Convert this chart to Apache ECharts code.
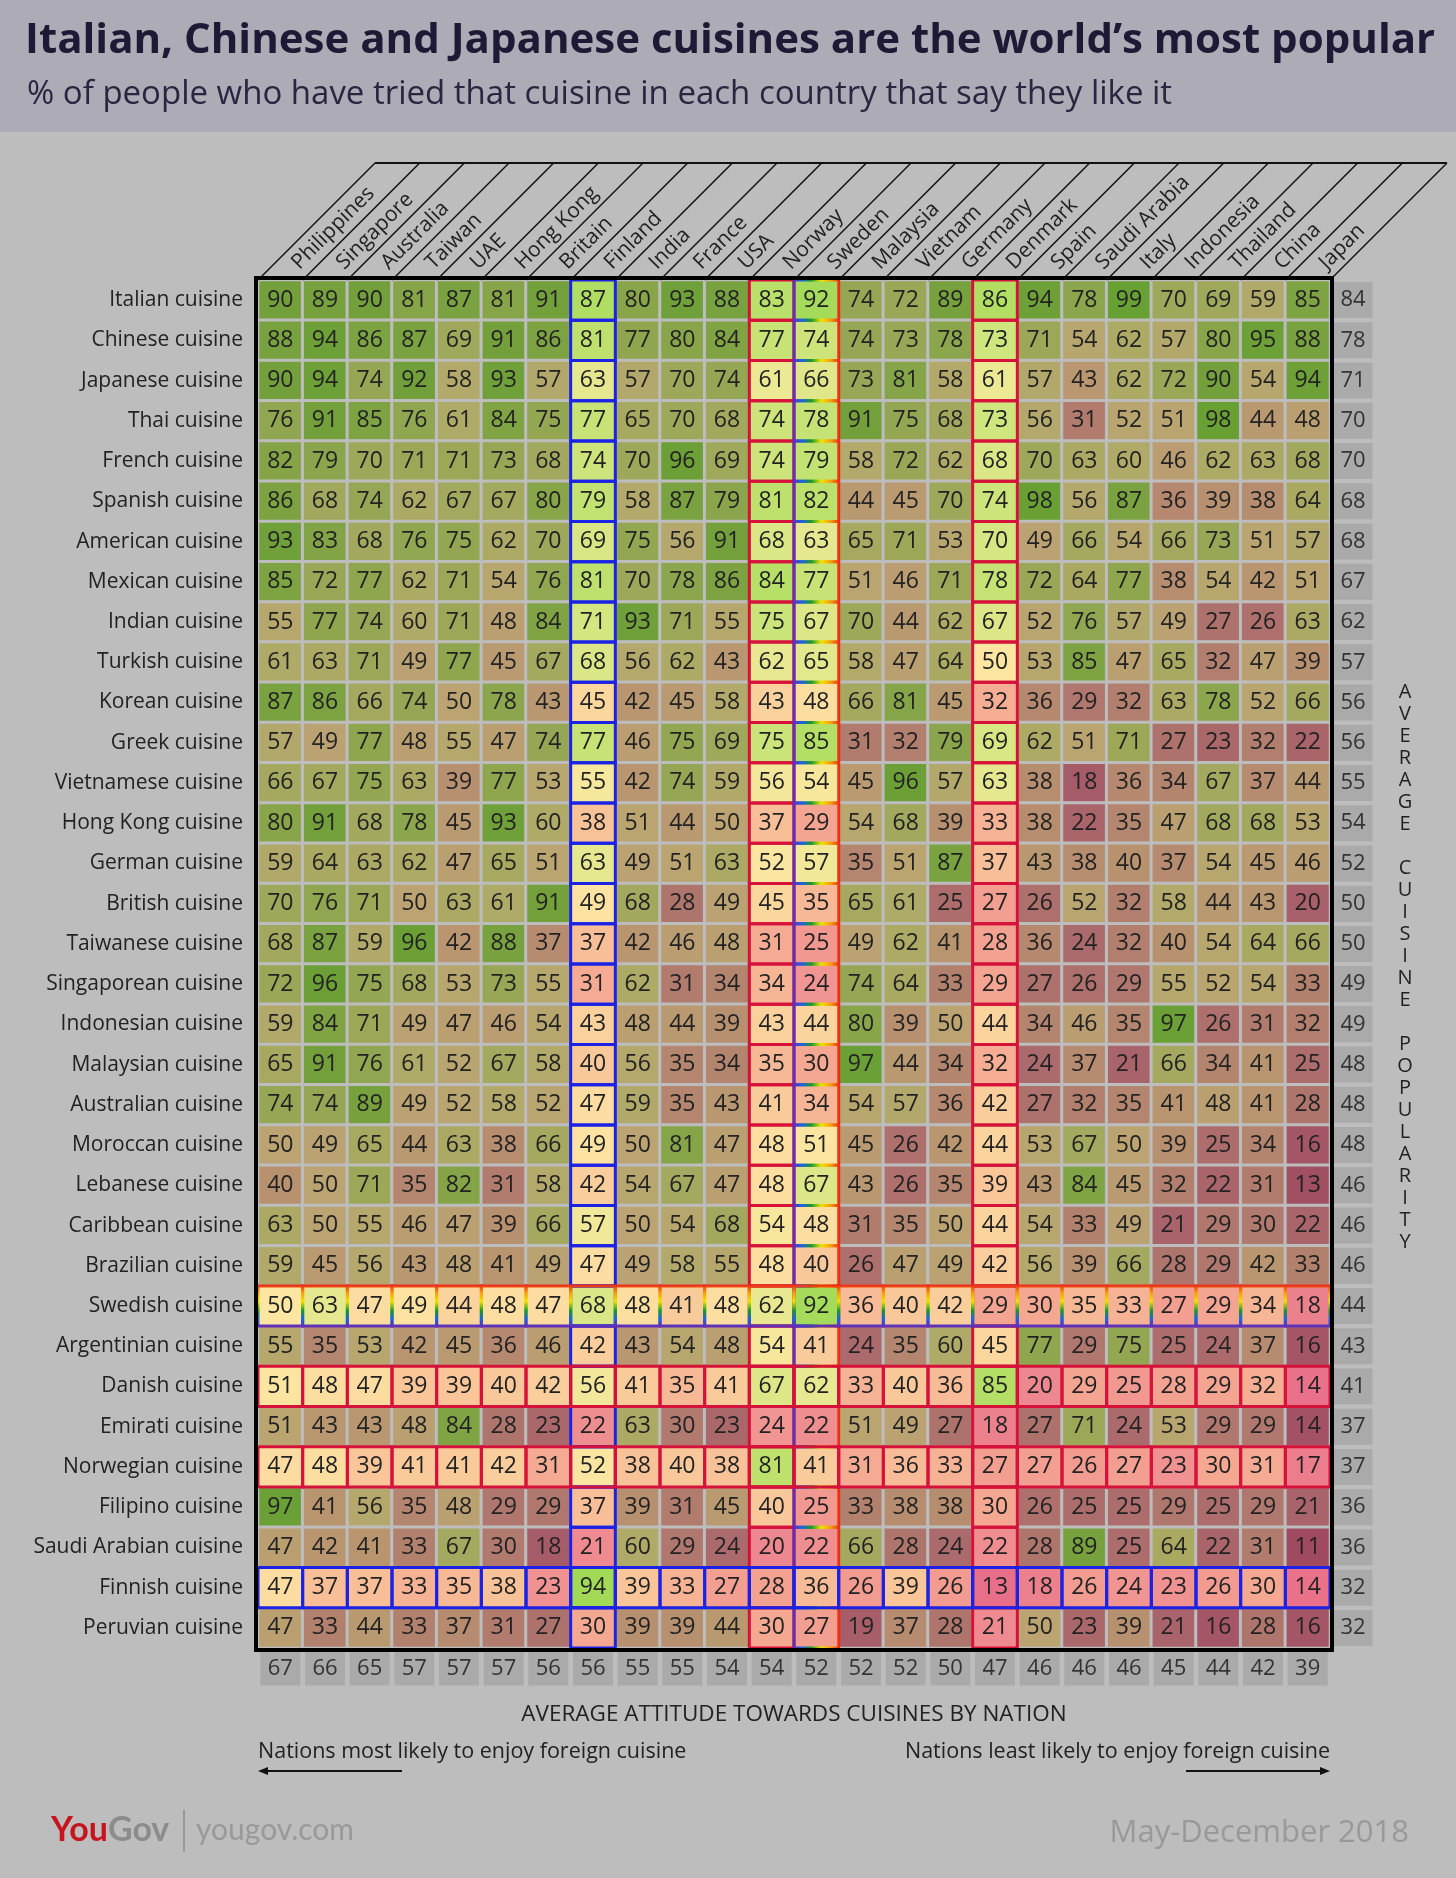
<!DOCTYPE html>
<html><head><meta charset="utf-8">
<script src="https://cdn.jsdelivr.net/npm/echarts@6/dist/echarts.min.js"></script>
<style>html,body{margin:0;padding:0;background:#bdbdbd}#c{width:1456px;height:1878px}</style>
</head><body><div id="c"></div>
<script>
const countries = ['Philippines','Singapore','Australia','Taiwan','UAE','Hong Kong','Britain','Finland','India','France','USA','Norway','Sweden','Malaysia','Vietnam','Germany','Denmark','Spain','Saudi Arabia','Italy','Indonesia','Thailand','China','Japan'];
const cuisines = ['Italian cuisine','Chinese cuisine','Japanese cuisine','Thai cuisine','French cuisine','Spanish cuisine','American cuisine','Mexican cuisine','Indian cuisine','Turkish cuisine','Korean cuisine','Greek cuisine','Vietnamese cuisine','Hong Kong cuisine','German cuisine','British cuisine','Taiwanese cuisine','Singaporean cuisine','Indonesian cuisine','Malaysian cuisine','Australian cuisine','Moroccan cuisine','Lebanese cuisine','Caribbean cuisine','Brazilian cuisine','Swedish cuisine','Argentinian cuisine','Danish cuisine','Emirati cuisine','Norwegian cuisine','Filipino cuisine','Saudi Arabian cuisine','Finnish cuisine','Peruvian cuisine'];

const italian     = [90,89,90,81,87,81,91,87,80,93,88,83,92,74,72,89,86,94,78,99,70,69,59,85];
const chinese     = [88,94,86,87,69,91,86,81,77,80,84,77,74,74,73,78,73,71,54,62,57,80,95,88];
const japanese    = [90,94,74,92,58,93,57,63,57,70,74,61,66,73,81,58,61,57,43,62,72,90,54,94];
const thai        = [76,91,85,76,61,84,75,77,65,70,68,74,78,91,75,68,73,56,31,52,51,98,44,48];
const french      = [82,79,70,71,71,73,68,74,70,96,69,74,79,58,72,62,68,70,63,60,46,62,63,68];
const spanish     = [86,68,74,62,67,67,80,79,58,87,79,81,82,44,45,70,74,98,56,87,36,39,38,64];
const american    = [93,83,68,76,75,62,70,69,75,56,91,68,63,65,71,53,70,49,66,54,66,73,51,57];
const mexican     = [85,72,77,62,71,54,76,81,70,78,86,84,77,51,46,71,78,72,64,77,38,54,42,51];
const indian      = [55,77,74,60,71,48,84,71,93,71,55,75,67,70,44,62,67,52,76,57,49,27,26,63];
const turkish     = [61,63,71,49,77,45,67,68,56,62,43,62,65,58,47,64,50,53,85,47,65,32,47,39];
const korean      = [87,86,66,74,50,78,43,45,42,45,58,43,48,66,81,45,32,36,29,32,63,78,52,66];
const greek       = [57,49,77,48,55,47,74,77,46,75,69,75,85,31,32,79,69,62,51,71,27,23,32,22];
const vietnamese  = [66,67,75,63,39,77,53,55,42,74,59,56,54,45,96,57,63,38,18,36,34,67,37,44];
const hongkong    = [80,91,68,78,45,93,60,38,51,44,50,37,29,54,68,39,33,38,22,35,47,68,68,53];
const german      = [59,64,63,62,47,65,51,63,49,51,63,52,57,35,51,87,37,43,38,40,37,54,45,46];
const british     = [70,76,71,50,63,61,91,49,68,28,49,45,35,65,61,25,27,26,52,32,58,44,43,20];
const taiwanese   = [68,87,59,96,42,88,37,37,42,46,48,31,25,49,62,41,28,36,24,32,40,54,64,66];
const singaporean = [72,96,75,68,53,73,55,31,62,31,34,34,24,74,64,33,29,27,26,29,55,52,54,33];
const indonesian  = [59,84,71,49,47,46,54,43,48,44,39,43,44,80,39,50,44,34,46,35,97,26,31,32];
const malaysian   = [65,91,76,61,52,67,58,40,56,35,34,35,30,97,44,34,32,24,37,21,66,34,41,25];
const australian  = [74,74,89,49,52,58,52,47,59,35,43,41,34,54,57,36,42,27,32,35,41,48,41,28];
const moroccan    = [50,49,65,44,63,38,66,49,50,81,47,48,51,45,26,42,44,53,67,50,39,25,34,16];
const lebanese    = [40,50,71,35,82,31,58,42,54,67,47,48,67,43,26,35,39,43,84,45,32,22,31,13];
const caribbean   = [63,50,55,46,47,39,66,57,50,54,68,54,48,31,35,50,44,54,33,49,21,29,30,22];
const brazilian   = [59,45,56,43,48,41,49,47,49,58,55,48,40,26,47,49,42,56,39,66,28,29,42,33];
const swedish     = [50,63,47,49,44,48,47,68,48,41,48,62,92,36,40,42,29,30,35,33,27,29,34,18];
const argentinian = [55,35,53,42,45,36,46,42,43,54,48,54,41,24,35,60,45,77,29,75,25,24,37,16];
const danish      = [51,48,47,39,39,40,42,56,41,35,41,67,62,33,40,36,85,20,29,25,28,29,32,14];
const emirati     = [51,43,43,48,84,28,23,22,63,30,23,24,22,51,49,27,18,27,71,24,53,29,29,14];
const norwegian   = [47,48,39,41,41,42,31,52,38,40,38,81,41,31,36,33,27,27,26,27,23,30,31,17];
const filipino    = [97,41,56,35,48,29,29,37,39,31,45,40,25,33,38,38,30,26,25,25,29,25,29,21];
const saudi       = [47,42,41,33,67,30,18,21,60,29,24,20,22,66,28,24,22,28,89,25,64,22,31,11];
const finnish     = [47,37,37,33,35,38,23,94,39,33,27,28,36,26,39,26,13,18,26,24,23,26,30,14];
const peruvian    = [47,33,44,33,37,31,27,30,39,39,44,30,27,19,37,28,21,50,23,39,21,16,28,16];

const cuisineAverages = [84,78,71,70,70,68,68,67,62,57,56,56,55,54,52,50,50,49,49,48,48,48,46,46,46,44,43,41,37,37,36,36,32,32];
const nationAverages  = [67,66,65,57,57,57,56,56,55,55,54,54,52,52,52,50,47,46,46,46,45,44,42,39];

const highlightCols = {'Finland':'blue','Norway':'red','Sweden':'rainbow','Denmark':'red'};
const highlightRows = {'Swedish cuisine':'rainbow','Danish cuisine':'red','Norwegian cuisine':'red','Finnish cuisine':'blue'};

const rows = [italian,chinese,japanese,thai,french,spanish,american,mexican,indian,turkish,korean,greek,vietnamese,hongkong,german,british,taiwanese,singaporean,indonesian,malaysian,australian,moroccan,lebanese,caribbean,brazilian,swedish,argentinian,danish,emirati,norwegian,filipino,saudi,finnish,peruvian];

const FONT = "'Open Sans'";
const normalData = [], brightData = [], borderData = [];
rows.forEach((r, ri) => r.forEach((v, ci) => {
  const hl = highlightRows[cuisines[ri]] || highlightCols[countries[ci]];
  (hl ? brightData : normalData).push([ci, ri, v]);
}));
const typeCode = {blue:0, red:1};
countries.forEach((c, ci) => {
  const t = highlightCols[c]; if (!t) return;
  cuisines.forEach((_, ri) => borderData.push([ci, ri, 0, t === 'rainbow' ? 2 : typeCode[t]]));
});
cuisines.forEach((c, ri) => {
  const t = highlightRows[c]; if (!t) return;
  countries.forEach((_, ci) => borderData.push([ci, ri, 0, t === 'rainbow' ? 3 : typeCode[t]]));
});

const chart = echarts.init(document.getElementById('c'), null, {renderer:'canvas'});
const cellLabel = {show:true, formatter:p=>p.value[2], fontSize:23, color:'#222', fontFamily:FONT};

const rainbowStops = ['#7a1fa2','#1e5fe6','#1a9a2a','#f2e200','#f59a0a','#e8141c'];
function grad(vertical){
  const cols = vertical ? rainbowStops.slice().reverse() : rainbowStops;
  return new echarts.graphic.LinearGradient(0,0,vertical?0:1,vertical?1:0, cols.map((c,i)=>({offset:i/(cols.length-1), color:c})));
}

chart.setOption({
  backgroundColor:'#bdbdbd',
  animation:false,
  title:[
    {text:'Italian, Chinese and Japanese cuisines are the world\u2019s most popular', left:20, top:15,
     textStyle:{fontSize:42, fontWeight:'bold', color:'#1e1a35', fontFamily:FONT}},
    {text:'% of people who have tried that cuisine in each country that say they like it', left:22, top:73,
     textStyle:{fontSize:33, fontWeight:'normal', color:'#2a2540', fontFamily:FONT}}
  ],
  grid:[
    {left:258, right:126, top:280, height:1368},
    {left:1333, width:40, top:280, height:1368},
    {left:258, right:126, top:1651, height:35}
  ],
  xAxis:[
    {type:'category', data:countries, position:'top', gridIndex:0,
     axisLine:{show:false}, axisTick:{show:false}, splitLine:{show:false}, axisLabel:{show:false}},
    {type:'category', data:['avg'], gridIndex:1, show:false},
    {type:'category', data:countries, gridIndex:2, show:false}
  ],
  yAxis:[
    {type:'category', data:cuisines, inverse:true, gridIndex:0,
     axisLine:{show:false}, axisTick:{show:false}, splitLine:{show:false},
     axisLabel:{interval:0, margin:15, fontSize:21, color:'#222', fontFamily:FONT}},
    {type:'category', data:cuisines, inverse:true, gridIndex:1, show:false},
    {type:'category', data:['avg'], gridIndex:2, show:false}
  ],
  visualMap:[
    {show:false, seriesIndex:0, dimension:2, min:10, max:100,
     inRange:{color:['#9e4860','#a8606a','#b07a6e','#b8926f','#bba472','#b0aa68','#9ea85a','#88a54a','#74a03c','#66a032']}},
    {show:false, seriesIndex:1, dimension:2, min:10, max:100,
     inRange:{color:['#e66486','#ee8890','#f4a892','#f9c89a','#fde5a2','#ede996','#d6e682','#c0e270','#a8dc5c','#98d850']}}
  ],
  series:[
    {type:'heatmap', data:normalData, label:cellLabel, itemStyle:{borderColor:'#bdbdbd', borderWidth:3}, silent:true, z:2},
    {type:'heatmap', data:brightData, label:cellLabel, itemStyle:{borderWidth:0}, silent:true, z:3},
    {type:'custom', data:borderData, silent:true, z:5,
     renderItem:(params, api)=>{
       const c = api.coord([api.value(0), api.value(1)]);
       const s = api.size([1,1]);
       const t = api.value(3);
       const stroke = t===0 ? '#1a22e6' : t===1 ? '#d6123a' : grad(t===3);
       return {type:'rect', shape:{x:c[0]-s[0]/2, y:c[1]-s[1]/2, width:s[0], height:s[1]},
               style:{fill:null, stroke:stroke, lineWidth:3}};
     }},
    {type:'scatter', xAxisIndex:1, yAxisIndex:1, symbol:'rect', symbolSize:[39,36], silent:true,
     data:cuisineAverages.map((v,i)=>[0,i,v]), itemStyle:{color:'#aaaaaa', opacity:1},
     label:{show:true, position:'inside', formatter:p=>p.value[2], fontSize:22, color:'#333', fontFamily:FONT}},
    {type:'scatter', xAxisIndex:2, yAxisIndex:2, symbol:'rect', symbolSize:[40,34], silent:true,
     data:nationAverages.map((v,i)=>[i,0,v]), itemStyle:{color:'#aaaaaa', opacity:1},
     label:{show:true, position:'inside', formatter:p=>p.value[2], fontSize:22, color:'#333', fontFamily:FONT}}
  ]
});

// decorations derived from the axes
const p0 = chart.convertToPixel({xAxisIndex:0, yAxisIndex:0}, [0,0]);
const p1 = chart.convertToPixel({xAxisIndex:0, yAxisIndex:0}, [1,1]);
const cw = p1[0]-p0[0], ch = p1[1]-p0[1];
const gx = p0[0]-cw/2, gy = p0[1]-ch/2;
const gw = cw*countries.length, gh = ch*cuisines.length;
const rise = 117;
const g = [];
g.push({type:'rect', z:-10, shape:{x:0,y:0,width:1456,height:132}, style:{fill:'#adabb5'}});
for (let i=0;i<=countries.length;i++){
  const x = gx + i*cw;
  g.push({type:'line', z:10, shape:{x1:x, y1:gy, x2:x+rise, y2:gy-rise}, style:{stroke:'#111', lineWidth:1.5}});
}
g.push({type:'line', z:10, shape:{x1:gx+rise, y1:gy-rise, x2:gx+gw+rise, y2:gy-rise}, style:{stroke:'#111', lineWidth:2}});
countries.forEach((name, i) => {
  const cx = chart.convertToPixel({xAxisIndex:0}, i);
  g.push({type:'text', z:10, x:cx+15, y:gy-14, rotation:Math.PI/4,
    style:{text:name, fill:'#222', font:'21px '+FONT, align:'left', verticalAlign:'middle'}});
});
g.push({type:'rect', z:20, shape:{x:gx-2, y:gy-2, width:gw+4, height:gh+4}, style:{fill:null, stroke:'#000', lineWidth:4}});
const vText = 'AVERAGE CUISINE POPULARITY'.split('').join('\n');
g.push({type:'text', z:10, x:1405, y:gy + 17*ch + 3, style:{text:vText, fill:'#222', font:'20px '+FONT, align:'center', verticalAlign:'middle', lineHeight:22}});
g.push({type:'text', z:10, x:gx+gw/2, y:1715, style:{text:'AVERAGE ATTITUDE TOWARDS CUISINES BY NATION', fill:'#222', font:'22.5px '+FONT, align:'center', verticalAlign:'middle'}});
g.push({type:'text', z:10, x:gx, y:1752, style:{text:'Nations most likely to enjoy foreign cuisine', fill:'#222', font:'21.5px '+FONT, align:'left', verticalAlign:'middle'}});
g.push({type:'text', z:10, x:gx+gw, y:1752, style:{text:'Nations least likely to enjoy foreign cuisine', fill:'#222', font:'21.5px '+FONT, align:'right', verticalAlign:'middle'}});
g.push({type:'line', z:10, shape:{x1:gx+4, y1:1771, x2:gx+144, y2:1771}, style:{stroke:'#111', lineWidth:2}});
g.push({type:'polygon', z:10, shape:{points:[[gx,1771],[gx+10,1767],[gx+10,1775]]}, style:{fill:'#111'}});
g.push({type:'line', z:10, shape:{x1:gx+gw-144, y1:1771, x2:gx+gw-4, y2:1771}, style:{stroke:'#111', lineWidth:2}});
g.push({type:'polygon', z:10, shape:{points:[[gx+gw,1771],[gx+gw-10,1767],[gx+gw-10,1775]]}, style:{fill:'#111'}});
g.push({type:'text', z:10, x:51, y:1830, style:{text:'{a|You}{b|Gov}', verticalAlign:'middle', align:'left',
  rich:{a:{fill:'#c8141e', font:'bold 34px Lato'}, b:{fill:'#8c8c8c', font:'bold 34px Lato'}}}});
g.push({type:'line', z:10, shape:{x1:184, y1:1810, x2:184, y2:1852}, style:{stroke:'#8c8c8c', lineWidth:1.5}});
g.push({type:'text', z:10, x:196, y:1830, style:{text:'yougov.com', fill:'#999', font:'30px Lato', align:'left', verticalAlign:'middle'}});
g.push({type:'text', z:10, x:1409, y:1833, style:{text:'May-December 2018', fill:'#999', font:'31px '+FONT, align:'right', verticalAlign:'middle'}});
chart.setOption({graphic:g});
</script></body></html>
